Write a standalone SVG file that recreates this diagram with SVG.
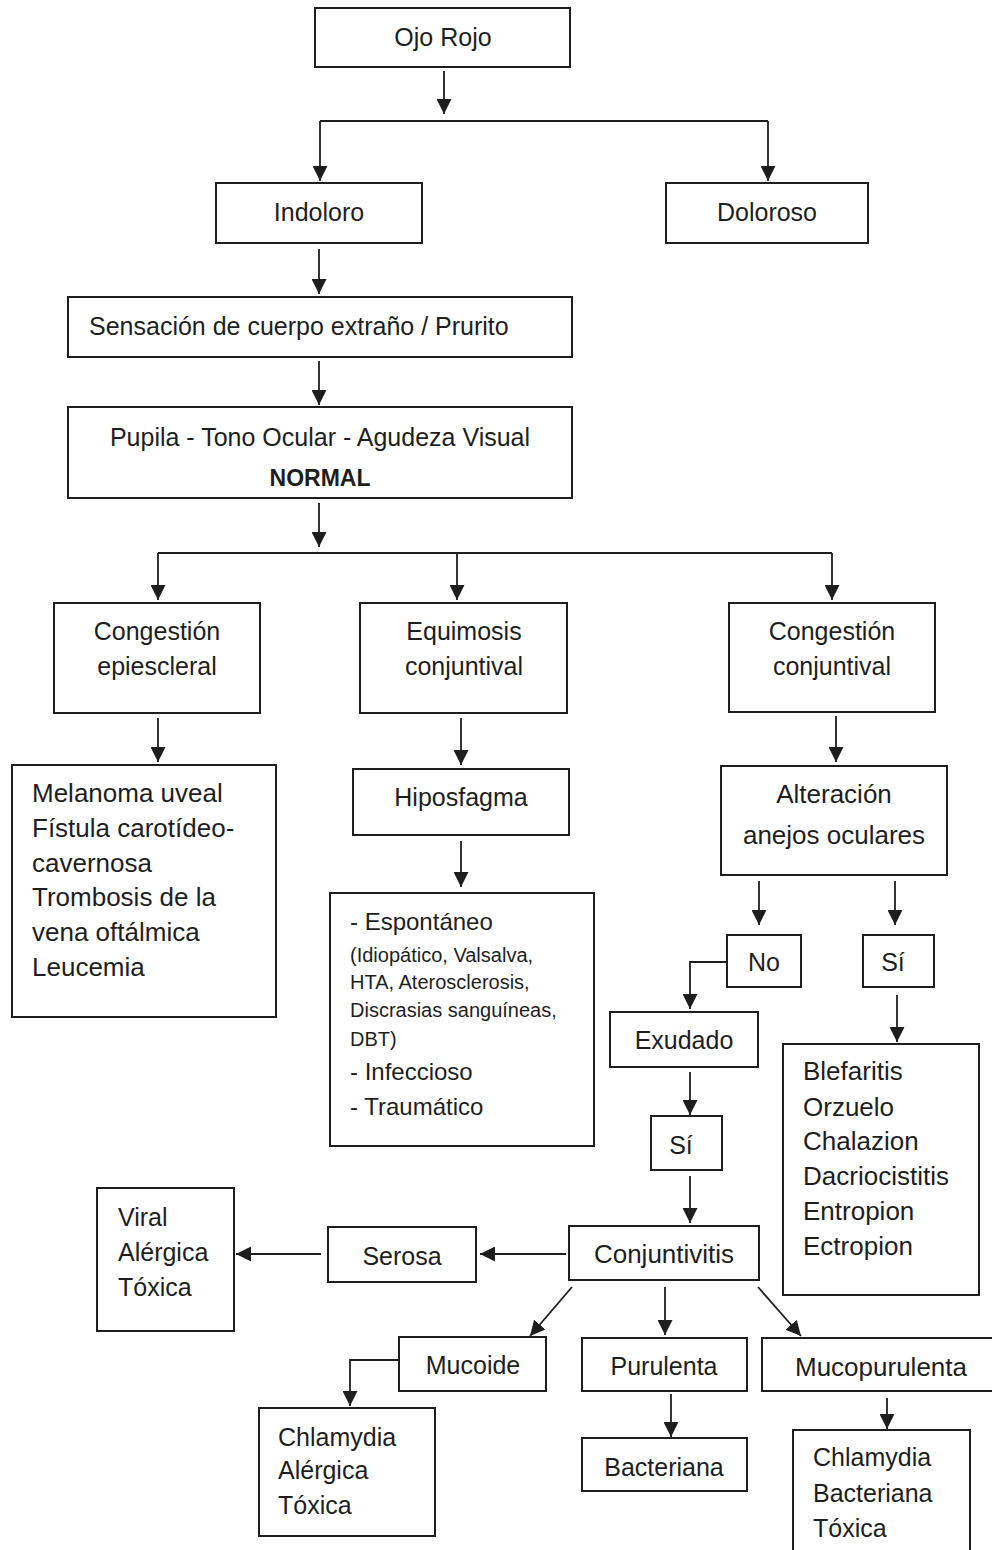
<svg xmlns="http://www.w3.org/2000/svg" width="992" height="1550" viewBox="0 0 992 1550">
<style>
.b{fill:#fff;stroke:#1e1e1e;stroke-width:2}
.t{font-family:"Liberation Sans",Arial,sans-serif;font-size:25px;fill:#1e1e1e}
.c{text-anchor:middle}
.s{font-size:20px}
.bold{font-weight:bold}
.l{fill:none;stroke:#1e1e1e;stroke-width:1.8}
</style>
<defs>
<marker id="ah" markerUnits="userSpaceOnUse" markerWidth="15" markerHeight="15" viewBox="0 0 15 15" refX="15" refY="7.5" orient="auto">
<path d="M0,0 L15,7.5 L0,15 z" fill="#1e1e1e"/>
</marker>
</defs>
<rect width="992" height="1550" fill="#fff"/>
<g id="connectors">
<path class="l" d="M444,71 V114" marker-end="url(#ah)"/>
<path class="l" d="M320,121 H768"/>
<path class="l" d="M320,121 V181" marker-end="url(#ah)"/>
<path class="l" d="M768,121 V181" marker-end="url(#ah)"/>
<path class="l" d="M319,249 V294" marker-end="url(#ah)"/>
<path class="l" d="M319,361 V405" marker-end="url(#ah)"/>
<path class="l" d="M319,503 V547" marker-end="url(#ah)"/>
<path class="l" d="M158,553 H832"/>
<path class="l" d="M158,553 V600" marker-end="url(#ah)"/>
<path class="l" d="M457,553 V600" marker-end="url(#ah)"/>
<path class="l" d="M832,553 V600" marker-end="url(#ah)"/>
<path class="l" d="M158,718 V762" marker-end="url(#ah)"/>
<path class="l" d="M461,718 V765" marker-end="url(#ah)"/>
<path class="l" d="M461,841 V887" marker-end="url(#ah)"/>
<path class="l" d="M836,716 V762" marker-end="url(#ah)"/>
<path class="l" d="M759,881 V925" marker-end="url(#ah)"/>
<path class="l" d="M895,881 V925" marker-end="url(#ah)"/>
<path class="l" d="M727,962 H690 V1009" marker-end="url(#ah)"/>
<path class="l" d="M690,1072 V1115" marker-end="url(#ah)"/>
<path class="l" d="M690,1176 V1223" marker-end="url(#ah)"/>
<path class="l" d="M897,995 V1042" marker-end="url(#ah)"/>
<path class="l" d="M566,1254 H480" marker-end="url(#ah)"/>
<path class="l" d="M321,1254 H236" marker-end="url(#ah)"/>
<path class="l" d="M572,1287 L530,1336" marker-end="url(#ah)"/>
<path class="l" d="M665,1287 V1335" marker-end="url(#ah)"/>
<path class="l" d="M758,1287 L801,1336" marker-end="url(#ah)"/>
<path class="l" d="M399,1360 H350 V1406" marker-end="url(#ah)"/>
<path class="l" d="M671,1394 V1437" marker-end="url(#ah)"/>
<path class="l" d="M887,1398 V1429" marker-end="url(#ah)"/>
</g>
<g id="ojo-rojo"><rect class="b" x="315" y="8" width="255" height="59"/><text class="t c" x="443" y="46">Ojo Rojo</text></g>
<g id="indoloro"><rect class="b" x="216" y="183" width="206" height="60"/><text class="t c" x="319" y="221">Indoloro</text></g>
<g id="doloroso"><rect class="b" x="666" y="183" width="202" height="60"/><text class="t c" x="767" y="221">Doloroso</text></g>
<g id="sensacion"><rect class="b" x="68" y="297" width="504" height="60"/><text class="t" x="89" y="335">Sensación de cuerpo extraño / Prurito</text></g>
<g id="pupila"><rect class="b" x="68" y="407" width="504" height="91"/><text class="t c" x="320" y="446">Pupila - Tono Ocular - Agudeza Visual</text><text class="t c bold" x="320" y="486" style="font-size:23px">NORMAL</text></g>
<g id="congestion-epiescleral"><rect class="b" x="54" y="603" width="206" height="110"/><text class="t c" x="157" y="640">Congestión</text><text class="t c" x="157" y="675">epiescleral</text></g>
<g id="equimosis"><rect class="b" x="360" y="603" width="207" height="110"/><text class="t c" x="464" y="640">Equimosis</text><text class="t c" x="464" y="675">conjuntival</text></g>
<g id="congestion-conjuntival"><rect class="b" x="729" y="603" width="206" height="109"/><text class="t c" x="832" y="640">Congestión</text><text class="t c" x="832" y="675">conjuntival</text></g>
<g id="melanoma"><rect class="b" x="12" y="765" width="264" height="252"/>
<text class="t" x="32" y="802" style="font-size:26px">Melanoma uveal</text>
<text class="t" x="32" y="837" style="font-size:26px">Fístula carotídeo-</text>
<text class="t" x="32" y="872" style="font-size:26px">cavernosa</text>
<text class="t" x="32" y="906" style="font-size:26px">Trombosis de la</text>
<text class="t" x="32" y="941" style="font-size:26px">vena oftálmica</text>
<text class="t" x="32" y="976" style="font-size:26px">Leucemia</text></g>
<g id="hiposfagma"><rect class="b" x="353" y="769" width="216" height="66"/><text class="t c" x="461" y="806">Hiposfagma</text></g>
<g id="espontaneo"><rect class="b" x="330" y="893" width="264" height="253"/>
<text class="t" x="350" y="930" style="font-size:24px">- Espontáneo</text>
<text class="t s" x="350" y="962">(Idiopático, Valsalva,</text>
<text class="t s" x="350" y="989">HTA, Aterosclerosis,</text>
<text class="t s" x="350" y="1017">Discrasias sanguíneas,</text>
<text class="t s" x="350" y="1046">DBT)</text>
<text class="t" x="350" y="1080" style="font-size:24px">- Infeccioso</text>
<text class="t" x="350" y="1115" style="font-size:24px">- Traumático</text></g>
<g id="alteracion"><rect class="b" x="721" y="766" width="226" height="109"/><text class="t c" x="834" y="803" style="font-size:26px">Alteración</text><text class="t c" x="834" y="844" style="font-size:26px">anejos oculares</text></g>
<g id="no"><rect class="b" x="727" y="935" width="74" height="52"/><text class="t c" x="764" y="971">No</text></g>
<g id="si-anejos"><rect class="b" x="863" y="935" width="71" height="52"/><text class="t c" x="893" y="971">Sí</text></g>
<g id="exudado"><rect class="b" x="610" y="1012" width="148" height="55"/><text class="t c" x="684" y="1049">Exudado</text></g>
<g id="si-exudado"><rect class="b" x="651" y="1116" width="71" height="54"/><text class="t c" x="681" y="1154">Sí</text></g>
<g id="blefaritis"><rect class="b" x="783" y="1044" width="196" height="251"/>
<text class="t" x="803" y="1080" style="font-size:26px">Blefaritis</text>
<text class="t" x="803" y="1116" style="font-size:26px">Orzuelo</text>
<text class="t" x="803" y="1150" style="font-size:26px">Chalazion</text>
<text class="t" x="803" y="1185" style="font-size:26px">Dacriocistitis</text>
<text class="t" x="803" y="1220" style="font-size:26px">Entropion</text>
<text class="t" x="803" y="1255" style="font-size:26px">Ectropion</text></g>
<g id="conjuntivitis"><rect class="b" x="569" y="1226" width="190" height="54"/><text class="t c" x="664" y="1263" style="font-size:26px">Conjuntivitis</text></g>
<g id="serosa"><rect class="b" x="328" y="1227" width="148" height="55"/><text class="t c" x="402" y="1265">Serosa</text></g>
<g id="viral"><rect class="b" x="97" y="1188" width="137" height="143"/>
<text class="t" x="118" y="1226">Viral</text>
<text class="t" x="118" y="1261">Alérgica</text>
<text class="t" x="118" y="1296">Tóxica</text></g>
<g id="mucoide"><rect class="b" x="399" y="1337" width="147" height="54"/><text class="t c" x="473" y="1374">Mucoide</text></g>
<g id="purulenta"><rect class="b" x="582" y="1338" width="165" height="53"/><text class="t c" x="664" y="1375">Purulenta</text></g>
<g id="mucopurulenta"><rect class="b" x="762" y="1338" width="240" height="53"/><text class="t c" x="881" y="1376" style="font-size:26px">Mucopurulenta</text></g>
<g id="chlamydia-mucoide"><rect class="b" x="259" y="1408" width="176" height="128"/>
<text class="t" x="278" y="1446">Chlamydia</text>
<text class="t" x="278" y="1479">Alérgica</text>
<text class="t" x="278" y="1514">Tóxica</text></g>
<g id="bacteriana"><rect class="b" x="582" y="1438" width="165" height="53"/><text class="t c" x="664" y="1476">Bacteriana</text></g>
<g id="chlamydia-muco"><rect class="b" x="793" y="1430" width="177" height="130"/>
<text class="t" x="813" y="1466">Chlamydia</text>
<text class="t" x="813" y="1502">Bacteriana</text>
<text class="t" x="813" y="1537">Tóxica</text></g>
</svg>
